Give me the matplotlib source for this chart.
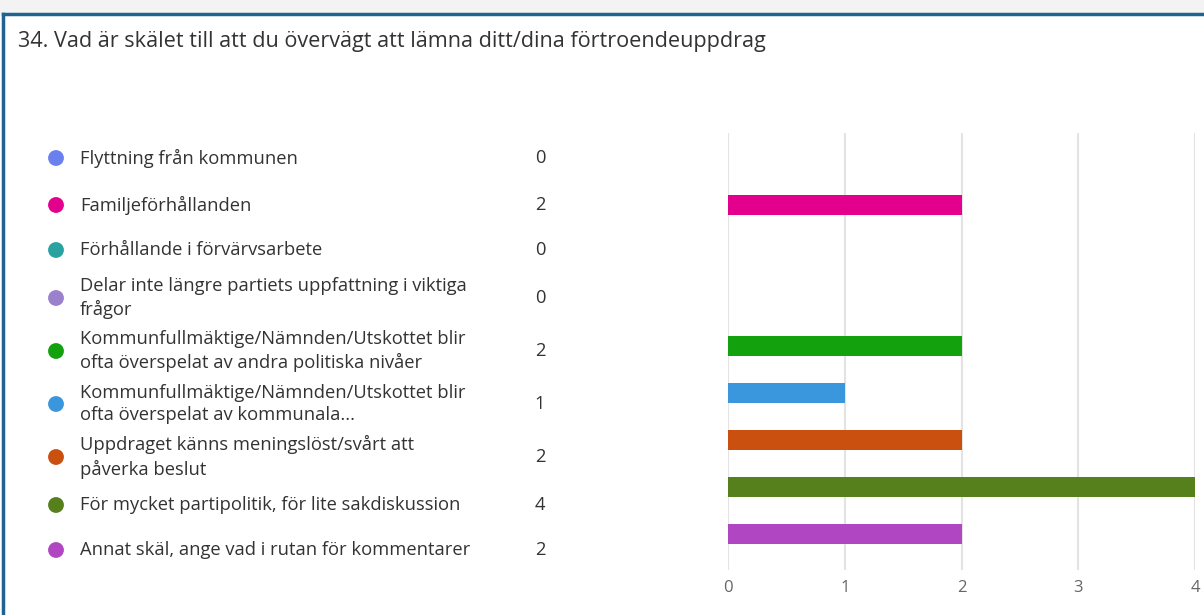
import matplotlib.pyplot as plt
from matplotlib.patches import Rectangle

# Survey data
labels = [
    "Flyttning från kommunen",
    "Familjeförhållanden",
    "Förhållande i förvärvsarbete",
    "Delar inte längre partiets uppfattning i viktiga\nfrågor",
    "Kommunfullmäktige/Nämnden/Utskottet blir\nofta överspelat av andra politiska nivåer",
    "Kommunfullmäktige/Nämnden/Utskottet blir\nofta överspelat av kommunala...",
    "Uppdraget känns meningslöst/svårt att\npåverka beslut",
    "För mycket partipolitik, för lite sakdiskussion",
    "Annat skäl, ange vad i rutan för kommentarer",
]
counts = [0, 2, 0, 0, 2, 1, 2, 4, 2]
colors = ["#6b80ef", "#e3008c", "#2aa2a2", "#9b80cc", "#13a10e",
          "#3a96dd", "#ca5010", "#55801c", "#b146c2"]
x_ticks = [0, 1, 2, 3, 4]

title = "34. Vad är skälet till att du övervägt att lämna ditt/dina förtroendeuppdrag"

plt.rcParams['font.family'] = ['Open Sans', 'DejaVu Sans']

W, H = 1204, 615
fig = plt.figure(figsize=(W / 100, H / 100), dpi=100)

# light strip above the card and a blue border
fig.patches.append(Rectangle((0, 1 - 14 / H), 1, 14 / H, transform=fig.transFigure,
                             facecolor="#f3f3f3", edgecolor="none", zorder=0))
fig.add_artist(plt.Line2D([3 / W, 3 / W], [0, 1 - 14 / H], color="#1f6391", lw=2.5))
fig.add_artist(plt.Line2D([3 / W, 1], [1 - 14 / H, 1 - 14 / H], color="#1f6391", lw=2.5))

fig.text(18 / W, 1 - 42 / H, title, fontsize=15.6, color="#333333", va="center")

# legend list, laid out in pixel coordinates (rows are not evenly spaced)
row_px = [158, 205, 250, 298, 351, 404, 457, 505, 550]
lax = fig.add_axes([0, 0, 1, 1])
lax.set_xlim(0, W)
lax.set_ylim(H, 0)
lax.axis("off")
lax.scatter([56] * len(row_px), row_px, s=130, c=colors, edgecolors="none")
for yy, lab, c in zip(row_px, labels, counts):
    lax.text(80, yy, lab, fontsize=13.2, color="#333333", va="center", linespacing=1.35)
    lax.text(540, yy, str(c), fontsize=13.2, color="#333333", va="center", ha="center")

# bars
y = list(range(len(labels)))
ax = fig.add_axes([728 / W, 1 - 570 / H, (1195 - 728) / W, 437 / H])
ax.barh(y, counts, height=0.43, color=colors, zorder=3)
ax.set_xlim(0, 4)
ax.set_ylim(8.77, -0.53)
ax.set_xticks(x_ticks)
ax.set_yticks([])
ax.grid(axis="x", color="#e3e3e3", lw=1.5, zorder=0)
for s in ax.spines.values():
    s.set_visible(False)
ax.tick_params(axis="x", length=0, labelsize=12, labelcolor="#666666", pad=7)
ax.patch.set_alpha(0)

fig.savefig("out.png", dpi=100)
